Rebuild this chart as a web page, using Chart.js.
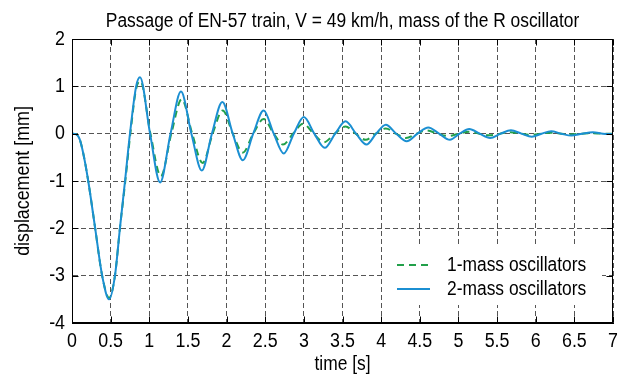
<!DOCTYPE html>
<html><head><meta charset="utf-8">
<style>html,body{margin:0;padding:0;background:#fff;}#wrap{width:628px;height:374px;}</style>
<script src="https://cdn.jsdelivr.net/npm/chart.js@4.4.1/dist/chart.umd.min.js"></script>
</head><body><div id="wrap"><canvas id="c" width="628" height="374"></canvas></div>
<script>
// ---- data ----
const chartTitle = 'Passage of EN-57 train, V = 49 km/h, mass of the R oscillator';
const seriesLabels = ['1-mass oscillators', '2-mass oscillators'];
const xTickValues = [0, 0.5, 1, 1.5, 2, 2.5, 3, 3.5, 4, 4.5, 5, 5.5, 6, 6.5, 7];
const yTickValues = [-4, -3, -2, -1, 0, 1, 2];

// 1-mass oscillators (time [s], displacement [mm])
const time1 = [0, 0.05, 0.1, 0.15, 0.21, 0.30, 0.39, 0.48, 0.556, 0.62, 0.69, 0.755, 0.83, 0.885, 1.015, 1.15, 1.285, 1.42, 1.555, 1.69, 1.82, 1.95, 2.08, 2.21, 2.345, 2.48, 2.61, 2.73, 2.86, 2.99, 3.125, 3.26, 3.4, 3.54, 3.67, 3.8, 3.93, 4.06, 4.19, 4.32, 4.46, 4.59, 4.73, 4.87, 5.0, 5.14, 5.27, 5.4, 5.54, 5.67, 5.8, 5.94, 6.07, 6.2, 6.33, 6.46, 6.6, 6.73, 6.87, 7.0];
const disp1 = [0, -0.01, -0.12, -0.45, -1, -2, -3, -3.47, -3, -2, -1, 0, 0.95, 1.11, 0, -0.90, 0, 0.73, 0, -0.62, 0, 0.49, 0, -0.40, 0, 0.31, 0, -0.23, 0, 0.21, 0, -0.18, 0, 0.15, 0, -0.13, 0, 0.11, 0, -0.09, 0, 0.07, 0, -0.05, 0, 0.04, 0, -0.035, 0, 0.03, 0, -0.025, 0, 0.02, 0, -0.015, 0, 0.01, 0, 0];

// 2-mass oscillators
const time2 = [0, 0.05, 0.1, 0.15, 0.21, 0.30, 0.39, 0.48, 0.556, 0.62, 0.686, 0.75, 0.83, 0.88, 1.01, 1.14, 1.275, 1.41, 1.545, 1.68, 1.81, 1.945, 2.08, 2.21, 2.345, 2.48, 2.61, 2.74, 2.87, 3.0, 3.135, 3.27, 3.405, 3.54, 3.675, 3.81, 3.935, 4.06, 4.195, 4.33, 4.47, 4.61, 4.75, 4.89, 5.015, 5.14, 5.275, 5.41, 5.545, 5.68, 5.815, 5.95, 6.075, 6.2, 6.33, 6.46, 6.6, 6.74, 6.87, 7.0];
const disp2 = [0, -0.01, -0.12, -0.45, -1, -2, -3, -3.5, -3, -2, -1, 0, 1, 1.19, 0, -1.03, 0, 0.89, 0, -0.78, 0, 0.67, 0, -0.56, 0, 0.49, 0, -0.42, 0, 0.35, 0, -0.30, 0, 0.26, 0, -0.23, 0, 0.19, 0, -0.16, 0, 0.13, 0, -0.13, 0, 0.10, 0, -0.09, 0, 0.07, 0, -0.065, 0, 0.05, 0, -0.04, 0, 0.03, 0, -0.01];

// ---- styling ----
const FONT = '"Liberation Sans", Arial, sans-serif';
const NARROW = 0.87; // horizontal condensing of text (reference uses a narrow face)
const GREEN = '#22a04a';
const BLUE = '#1b8fd2';

const canvas = document.getElementById('c');
const ctx2d = canvas.getContext('2d');
const origFillText = ctx2d.fillText.bind(ctx2d);
ctx2d.fillText = function (text, x, y, maxWidth) {
  const w = this.measureText(text).width * NARROW;
  const mw = (maxWidth !== undefined && maxWidth !== null) ? Math.min(maxWidth, w) : w;
  return origFillText(text, x, y, mw);
};

const framePlugin = {
  id: 'frame',
  afterDraw(chart) {
    const {ctx, chartArea: a, scales} = chart;
    ctx.save();
    ctx.strokeStyle = '#000';
    ctx.lineWidth = 1;
    const L = Math.round(a.left) + 0.5, R = Math.round(a.right) - 0.5;
    const T = Math.round(a.top) + 0.5, B = Math.round(a.bottom) - 0.5;
    ctx.beginPath();
    scales.x.ticks.forEach(t => {
      const px = Math.round(scales.x.getPixelForValue(t.value)) + 0.5;
      ctx.moveTo(px, B); ctx.lineTo(px, B - 6);
      ctx.moveTo(px, T); ctx.lineTo(px, T + 6);
    });
    scales.y.ticks.forEach(t => {
      const py = Math.round(scales.y.getPixelForValue(t.value)) + 0.5;
      ctx.moveTo(L, py); ctx.lineTo(L + 6, py);
      ctx.moveTo(R, py); ctx.lineTo(R - 6, py);
    });
    ctx.stroke();
    ctx.strokeRect(L, T, R - L, B - T);
    ctx.restore();
  }
};

const legendPlugin = {
  id: 'insideLegend',
  afterDraw(chart) {
    const {ctx, chartArea: a} = chart;
    ctx.save();
    ctx.fillStyle = '#fff';
    ctx.fillRect(a.right - 231, a.bottom - 76, 220, 58);
    chart.data.datasets.forEach((ds, i) => {
      const y = a.bottom - 58 + i * 24;
      ctx.strokeStyle = ds.borderColor;
      ctx.lineWidth = ds.borderWidth;
      ctx.setLineDash(ds.borderDash || []);
      ctx.beginPath();
      ctx.moveTo(a.right - 216, y); ctx.lineTo(a.right - 183, y);
      ctx.stroke();
      ctx.setLineDash([]);
      ctx.fillStyle = '#000';
      ctx.font = '20px ' + FONT;
      ctx.textBaseline = 'middle';
      ctx.textAlign = 'left';
      ctx.fillText(ds.label, a.right - 166, y);
    });
    ctx.restore();
  }
};

const toPoints = (xs, ys) => xs.map((x, i) => ({x, y: ys[i]}));

new Chart(canvas, {
  type: 'line',
  data: {
    datasets: [
      {label: seriesLabels[0], data: toPoints(time1, disp1), borderColor: GREEN, borderDash: [7, 5], borderWidth: 2, pointRadius: 0, cubicInterpolationMode: 'monotone', order: 1},
      {label: seriesLabels[1], data: toPoints(time2, disp2), borderColor: BLUE, borderWidth: 2, pointRadius: 0, cubicInterpolationMode: 'monotone', order: 0}
    ]
  },
  options: {
    responsive: false,
    animation: false,
    devicePixelRatio: 1,
    layout: {padding: {left: 0, right: 15, top: 0, bottom: 0}},
    plugins: {
      legend: {display: false},
      tooltip: {enabled: false},
      title: {display: true, text: chartTitle, fullSize: false, color: '#000',
        font: {family: FONT, size: 20, weight: 'normal', lineHeight: 1.2}, padding: {top: 9, bottom: 6}}
    },
    scales: {
      x: {
        type: 'linear', min: 0, max: 7,
        afterBuildTicks: s => { s.ticks = xTickValues.map(v => ({value: v})); },
        afterFit: s => { s.height = 51; },
        ticks: {font: {family: FONT, size: 20.5}, color: '#000', padding: 6, maxRotation: 0, autoSkip: false, callback: v => String(v)},
        grid: {color: '#555', lineWidth: 1, drawTicks: false},
        border: {display: true, color: '#000', width: 1, dash: [5, 3]},
        title: {display: true, text: 'time [s]', color: '#000', font: {family: FONT, size: 20, lineHeight: 1}, padding: 0}
      },
      y: {
        type: 'linear', min: -4, max: 2,
        afterBuildTicks: s => { s.ticks = yTickValues.map(v => ({value: v})); },
        afterFit: s => { s.width = 72; },
        ticks: {font: {family: FONT, size: 20.5}, color: '#000', padding: 7, autoSkip: false, callback: v => String(v)},
        grid: {color: '#555', lineWidth: 1, drawTicks: false},
        border: {display: true, color: '#000', width: 1, dash: [5, 3]},
        title: {display: true, text: 'displacement [mm]', color: '#000', font: {family: FONT, size: 20.5, lineHeight: 1.2}, padding: {top: 11, bottom: 0}}
      }
    }
  },
  plugins: [framePlugin, legendPlugin]
});
</script>
</body></html>
